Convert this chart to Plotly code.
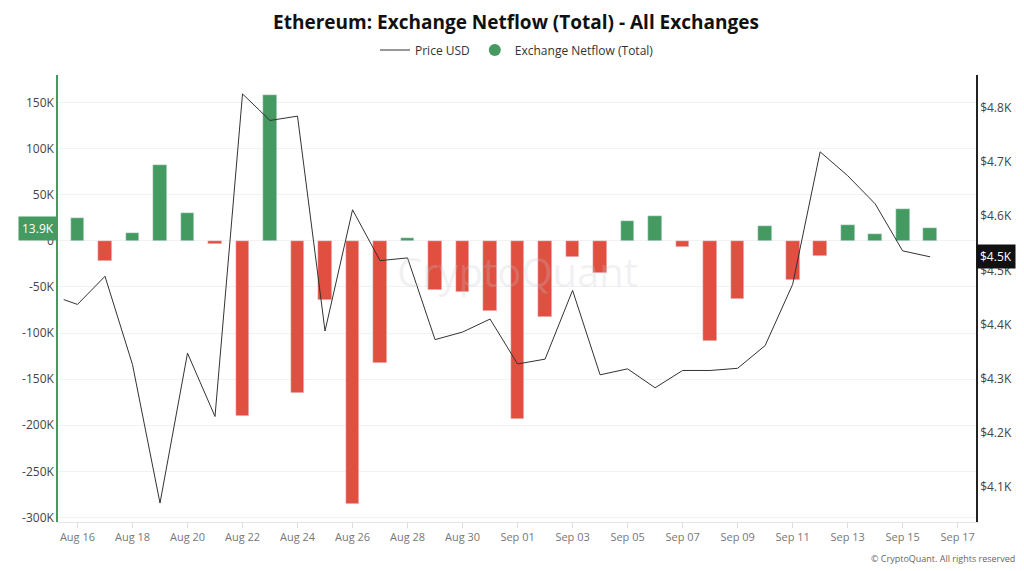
import pandas as pd
import plotly.graph_objects as go

# daily netflow (K ETH), Aug 16 - Sep 16
flow_dates = pd.date_range("2025-08-16", "2025-09-16", freq="D")
netflow_k = [25, -22, 9, 82, 30, -3, -190, 158, -165, -64, -285, -132, 3, -53, -55, -76,
             -193, -83, -18, -35, 22, 27, -7, -109, -63, 16, -42, -16, 17, 7, 35, 13.9]

price_dates = [pd.Timestamp("2025-08-15 12:00")] + list(flow_dates)
price_usd = [4446, 4437, 4489, 4326, 4070, 4347, 4230, 4826, 4777, 4785, 4388, 4612, 4518,
             4523, 4372, 4386, 4410, 4327, 4336, 4463, 4307, 4318, 4283, 4315, 4315, 4319,
             4361, 4474, 4719, 4675, 4623, 4536, 4525]

GREEN = "#459a62"
RED = "#e04f3f"
netflow = [v * 1000 for v in netflow_k]
colors = [GREEN if v >= 0 else RED for v in netflow]

W, H = 1016, 563  # page has an 8px body margin
T, B = 67, 49
plot_h = H - T - B

fig = go.Figure()
fig.add_trace(go.Bar(x=flow_dates, y=netflow, marker_color=colors, width=43200000,
                     name="Exchange Netflow (Total)", showlegend=False))
fig.add_trace(go.Scatter(x=price_dates, y=price_usd, mode="lines", yaxis="y2",
                         line=dict(color="#333", width=1), name="Price USD"))
# legend marker for the bars
fig.add_trace(go.Scatter(x=[None], y=[None], mode="markers", name="Exchange Netflow (Total)",
                         marker=dict(color=GREEN, size=12)))

fig.update_layout(
    width=W, height=H,
    margin=dict(l=50, r=48, t=T, b=B, autoexpand=False),
    plot_bgcolor="white", paper_bgcolor="white",
    font=dict(family="Open Sans", size=12, color="#555"),
    title=dict(text="<b>Ethereum: Exchange Netflow (Total) - All Exchanges</b>", x=0.5,
               y=1 - 14 / H, yanchor="middle", xanchor="center",
               font=dict(size=19, color="#111")),
    legend=dict(orientation="h", x=0.5, xanchor="center", y=1 + 25 / plot_h, yanchor="middle",
                font=dict(size=12, color="#333"), itemwidth=30),
    xaxis=dict(range=[pd.Timestamp("2025-08-15 07:00"), pd.Timestamp("2025-09-17 16:00")],
               tickformat="%b %d", dtick=2 * 86400000, tick0="2025-08-16",
               showgrid=False, ticks="outside", tickcolor="#ddd", ticklen=5,
               showline=True, linecolor="#e5e5e5", tickfont=dict(size=11, color="#777")),
    yaxis=dict(range=[-305000, 180000], tickvals=[150000, 100000, 50000, 0, -50000, -100000,
                                                 -150000, -200000, -250000, -300000],
               ticktext=["150K", "100K", "50K", "0", "-50K", "-100K", "-150K", "-200K",
                         "-250K", "-300K"],
               gridcolor="#f2f2f2", zeroline=False, showline=True, linecolor=GREEN,
               linewidth=1.5, tickfont=dict(size=12, color="#444")),
    yaxis2=dict(overlaying="y", side="right", range=[4035, 4861],
                tickvals=[4100, 4200, 4300, 4400, 4500, 4600, 4700, 4800],
                ticktext=["$4.1K", "$4.2K", "$4.3K", "$4.4K", "$4.5K", "$4.6K", "$4.7K", "$4.8K"],
                showgrid=False, showline=True, linecolor="#222", linewidth=1.5,
                tickfont=dict(size=12, color="#444")),
    bargap=0,
)

fig.add_annotation(text="13.9K", xref="paper", yref="y", x=0, y=13900, xanchor="right",
                   showarrow=False, bgcolor=GREEN, font=dict(color="white", size=12),
                   borderpad=3)
fig.add_annotation(text="$4.5K", xref="paper", yref="y2", x=1, y=4525, xanchor="left",
                   showarrow=False, bgcolor="#111", font=dict(color="white", size=12),
                   borderpad=3)
fig.add_annotation(text="CryptoQuant", xref="paper", yref="paper", x=0.5, y=0.56,
                   showarrow=False, font=dict(size=40, color="rgba(200,200,210,0.25)"))
fig.add_annotation(text="© CryptoQuant. All rights reserved", xref="paper", yref="paper",
                   x=1.045, y=-36 / plot_h, yanchor="middle", xanchor="right",
                   showarrow=False, font=dict(size=9, color="#666"))

fig.write_html("out.html")
